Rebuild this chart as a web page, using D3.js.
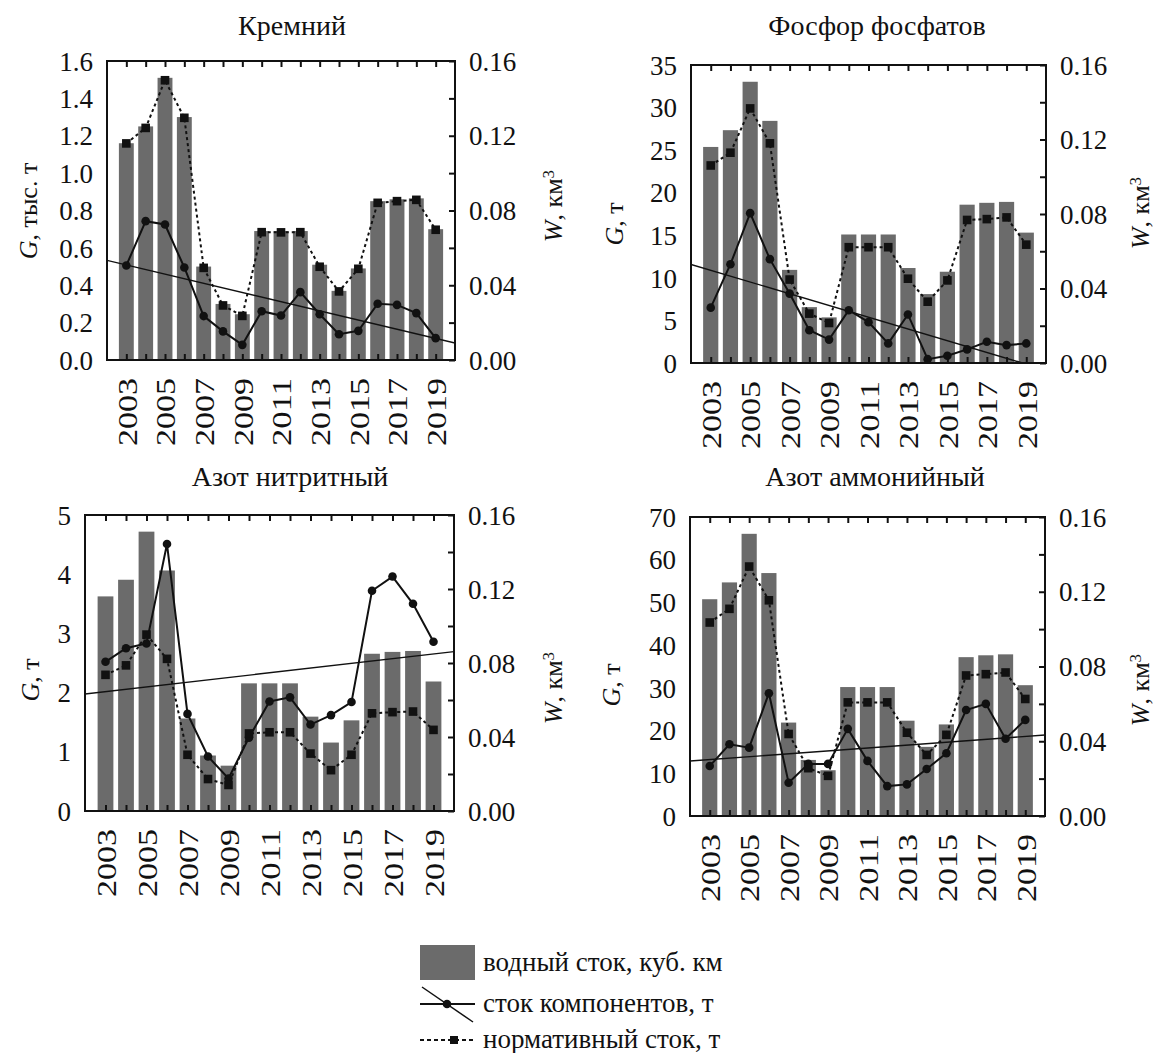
<!DOCTYPE html>
<html>
<head>
<meta charset="utf-8">
<script src="https://cdn.jsdelivr.net/npm/d3@7"></script>
<style>
  body { margin: 0; background: #fff; }
  svg text { font-family: "Liberation Serif", "Times New Roman", serif; fill: #111; }
</style>
</head>
<body>
<svg id="chart" width="1160" height="1053"></svg>
<script>
// Years of observation
const years = [2003, 2004, 2005, 2006, 2007, 2008, 2009, 2010, 2011, 2012, 2013, 2014, 2015, 2016, 2017, 2018, 2019];
const yearLabels = [2003, 2005, 2007, 2009, 2011, 2013, 2015, 2017, 2019];

// Water runoff W, km³ (bars, right axis)
const waterRunoff = [0.116, 0.125, 0.151, 0.130, 0.050, 0.030, 0.0245, 0.069, 0.069, 0.069, 0.051, 0.037, 0.049, 0.085, 0.086, 0.0865, 0.070];

// Component runoff G (solid line with circles) and normative runoff (dotted line with squares)
const siliconLoad = [0.506, 0.743, 0.725, 0.495, 0.235, 0.153, 0.081, 0.261, 0.238, 0.363, 0.245, 0.138, 0.156, 0.301, 0.295, 0.251, 0.117];
const siliconNorm = [1.159, 1.242, 1.497, 1.296, 0.493, 0.292, 0.236, 0.684, 0.683, 0.684, 0.499, 0.367, 0.488, 0.841, 0.850, 0.857, 0.697];
const phosphateLoad = [6.5, 11.6, 17.6, 12.2, 8.15, 3.85, 2.75, 6.2, 4.8, 2.3, 5.7, 0.45, 0.85, 1.6, 2.5, 2.1, 2.3];
const phosphateNorm = [23.2, 24.7, 29.9, 25.8, 9.8, 5.8, 4.7, 13.6, 13.6, 13.6, 9.9, 7.2, 9.7, 16.8, 16.9, 17.1, 13.9];
const nitriteLoad = [2.52, 2.75, 2.83, 4.51, 1.64, 0.92, 0.55, 1.24, 1.85, 1.92, 1.46, 1.62, 1.84, 3.72, 3.96, 3.50, 2.86];
const nitriteNorm = [2.30, 2.46, 2.98, 2.57, 0.95, 0.54, 0.44, 1.31, 1.33, 1.33, 0.97, 0.69, 0.95, 1.65, 1.67, 1.68, 1.37];
const ammoniumLoad = [11.7, 16.8, 16.0, 28.75, 7.8, 12.2, 12.2, 20.4, 12.9, 7.0, 7.4, 11.0, 14.7, 24.8, 26.25, 18.1, 22.5];
const ammoniumNorm = [45.3, 48.5, 58.4, 50.5, 19.2, 11.2, 9.4, 26.6, 26.6, 26.6, 19.5, 14.3, 19.0, 32.9, 33.2, 33.6, 27.4];

// Axis tick values
const siliconTicks = [0, 0.2, 0.4, 0.6, 0.8, 1.0, 1.2, 1.4, 1.6];
const phosphateTicks = [0, 5, 10, 15, 20, 25, 30, 35];
const nitriteTicks = [0, 1, 2, 3, 4, 5];
const ammoniumTicks = [0, 10, 20, 30, 40, 50, 60, 70];
const runoffTicks = [0, 0.04, 0.08, 0.12, 0.16];
const runoffTickMarks = [0, 0.02, 0.04, 0.06, 0.08, 0.10, 0.12, 0.14, 0.16];

const BAR = "#6b6b6b";
const FONT = "'Liberation Serif', 'Times New Roman', serif";
const svg = d3.select("#chart");

const panels = [
  { title: "Кремний", unit: ", тыс. т", load: siliconLoad, norm: siliconNorm, ticks: siliconTicks, fmt: d3.format(".1f"),
    box: { x0: 107, x1: 455, y0: 61, y1: 360 }, titleX: 292, titleY: 35, gX: 28, gY: 211, wX: 554, wY: 206 },
  { title: "Фосфор фосфатов", unit: ", т", load: phosphateLoad, norm: phosphateNorm, ticks: phosphateTicks, fmt: d3.format("d"),
    box: { x0: 691, x1: 1046, y0: 65, y1: 363 }, titleX: 877, titleY: 35, gX: 614, gY: 224, wX: 1141, wY: 213 },
  { title: "Азот нитритный", unit: ", т", load: nitriteLoad, norm: nitriteNorm, ticks: nitriteTicks, fmt: d3.format("d"),
    box: { x0: 85, x1: 454, y0: 515, y1: 811 }, titleX: 290, titleY: 486, gX: 30, gY: 680, wX: 554, wY: 688 },
  { title: "Азот аммонийный", unit: ", т", load: ammoniumLoad, norm: ammoniumNorm, ticks: ammoniumTicks, fmt: d3.format("d"),
    box: { x0: 690, x1: 1045, y0: 517, y1: 816 }, titleX: 875, titleY: 486, gX: 611, gY: 685, wX: 1141, wY: 690 }
];

// Least-squares trend of the component runoff
function linearFit(xs, ys) {
  const n = xs.length, mx = d3.mean(xs), my = d3.mean(ys);
  let sxy = 0, sxx = 0;
  for (let i = 0; i < n; i++) { sxy += (xs[i] - mx) * (ys[i] - my); sxx += (xs[i] - mx) ** 2; }
  const b = sxy / sxx;
  return x => my + b * (x - mx);
}

panels.forEach((p, idx) => {
  const { x0, x1, y0, y1 } = p.box;
  const x = d3.scaleLinear().domain([2002, 2020]).range([x0, x1]);
  const gMax = p.ticks[p.ticks.length - 1];
  const y = d3.scaleLinear().domain([0, gMax]).range([y1, y0]);
  const w = d3.scaleLinear().domain([0, 0.16]).range([y1, y0]);
  const step = x(2003) - x(2002);
  const bw = step * 0.77;

  const g = svg.append("g");
  const clipId = "clip" + idx;
  g.append("clipPath").attr("id", clipId)
    .append("rect").attr("x", x0).attr("y", y0).attr("width", x1 - x0).attr("height", y1 - y0);

  // bars: water runoff
  g.append("g").selectAll("rect").data(years).join("rect")
    .attr("x", (d) => x(d) - bw / 2)
    .attr("width", bw)
    .attr("y", (d, i) => w(waterRunoff[i]))
    .attr("height", (d, i) => y1 - w(waterRunoff[i]))
    .attr("fill", BAR);

  // trend line
  const fit = linearFit(years, p.load);
  g.append("line")
    .attr("clip-path", `url(#${clipId})`)
    .attr("x1", x(2002)).attr("y1", y(fit(2002)))
    .attr("x2", x(2020)).attr("y2", y(fit(2020)))
    .attr("stroke", "#111").attr("stroke-width", 1.4);

  // component runoff
  const line = d3.line().x((d) => x(d[0])).y((d) => y(d[1]));
  const loadPts = years.map((yr, i) => [yr, p.load[i]]);
  g.append("path").datum(loadPts).attr("d", line)
    .attr("fill", "none").attr("stroke", "#111").attr("stroke-width", 2);
  g.append("g").selectAll("circle").data(loadPts).join("circle")
    .attr("cx", (d) => x(d[0])).attr("cy", (d) => y(d[1])).attr("r", 4.3).attr("fill", "#111");

  // normative runoff
  const normPts = years.map((yr, i) => [yr, p.norm[i]]);
  g.append("path").datum(normPts).attr("d", line)
    .attr("fill", "none").attr("stroke", "#111").attr("stroke-width", 2).attr("stroke-dasharray", "3,3");
  g.append("g").selectAll("rect").data(normPts).join("rect")
    .attr("x", (d) => x(d[0]) - 4.3).attr("y", (d) => y(d[1]) - 4.3)
    .attr("width", 8.6).attr("height", 8.6).attr("fill", "#111");

  // frame
  g.append("rect").attr("x", x0).attr("y", y0).attr("width", x1 - x0).attr("height", y1 - y0)
    .attr("fill", "none").attr("stroke", "#111").attr("stroke-width", 2);

  // inward year ticks on top and bottom
  const topAxis = g.append("g").attr("transform", `translate(0,${y0})`)
    .call(d3.axisTop(x).tickValues(years).tickSize(-6).tickFormat(""));
  const botAxis = g.append("g").attr("transform", `translate(0,${y1})`)
    .call(d3.axisBottom(x).tickValues(years).tickSize(-6).tickFormat(""));
  [topAxis, botAxis].forEach(a => {
    a.select(".domain").remove();
    a.selectAll("line").attr("stroke", "#111").attr("stroke-width", 2);
  });

  // rotated year labels
  const yearAxis = g.append("g").attr("transform", `translate(0,${y1})`)
    .call(d3.axisBottom(x).tickValues(yearLabels).tickSize(0).tickFormat(d3.format("d")));
  yearAxis.select(".domain").remove();
  yearAxis.selectAll("text")
    .attr("transform", "rotate(-90)")
    .attr("x", -18).attr("y", 0).attr("dy", "0.36em")
    .attr("text-anchor", "end")
    .attr("textLength", 68).attr("lengthAdjust", "spacingAndGlyphs")
    .style("font-size", "27px").style("font-family", FONT).attr("fill", "#111");

  // left axis: G
  const leftAxis = g.append("g").attr("transform", `translate(${x0},0)`)
    .call(d3.axisLeft(y).tickValues(p.ticks).tickFormat(p.fmt).tickSize(0).tickPadding(14));
  leftAxis.select(".domain").remove();
  leftAxis.selectAll("text").style("font-size", "27px").style("font-family", FONT)
    .attr("fill", "#111").attr("dy", "0.34em");

  // right axis: W
  const rightTicks = g.append("g").attr("transform", `translate(${x1},0)`)
    .call(d3.axisLeft(w).tickValues(runoffTickMarks).tickSize(6).tickFormat(""));
  rightTicks.select(".domain").remove();
  rightTicks.selectAll("line").attr("stroke", "#111").attr("stroke-width", 2);
  const rightAxis = g.append("g").attr("transform", `translate(${x1},0)`)
    .call(d3.axisRight(w).tickValues(runoffTicks).tickFormat(d3.format(".2f")).tickSize(0).tickPadding(14));
  rightAxis.select(".domain").remove();
  rightAxis.selectAll("text").style("font-size", "27px").style("font-family", FONT)
    .attr("fill", "#111").attr("dy", "0.34em");

  // title
  g.append("text").attr("x", p.titleX).attr("y", p.titleY).attr("text-anchor", "middle")
    .style("font-size", "28px").text(p.title);

  // G axis label
  const gl = g.append("text").attr("transform", `translate(${p.gX},${p.gY}) rotate(-90)`)
    .attr("text-anchor", "middle").attr("dy", "0.35em").style("font-size", "26px");
  gl.append("tspan").style("font-style", "italic").text("G");
  gl.append("tspan").text(p.unit);

  // W axis label
  const wl = g.append("text").attr("transform", `translate(${p.wX},${p.wY}) rotate(-90)`)
    .attr("text-anchor", "middle").attr("dy", "0.3em").style("font-size", "26px");
  wl.append("tspan").style("font-style", "italic").text("W");
  wl.append("tspan").text(", км");
  wl.append("tspan").attr("dy", "-0.45em").style("font-size", "17px").text("3");
});

// legend
const lg = svg.append("g");
const lx0 = 420, lx1 = 475, tx = 483;
lg.append("rect").attr("x", lx0).attr("y", 945).attr("width", lx1 - lx0).attr("height", 35).attr("fill", BAR);
lg.append("text").attr("x", tx).attr("y", 971).style("font-size", "27px").text("водный сток, куб. км");

lg.append("line").attr("x1", lx0).attr("x2", lx1).attr("y1", 1004).attr("y2", 1004).attr("stroke", "#111").attr("stroke-width", 2);
lg.append("line").attr("x1", lx0 + 2).attr("y1", 987).attr("x2", lx1 - 2).attr("y2", 1022).attr("stroke", "#111").attr("stroke-width", 1.5);
lg.append("circle").attr("cx", 447).attr("cy", 1004).attr("r", 4.3).attr("fill", "#111");
lg.append("text").attr("x", tx).attr("y", 1012).style("font-size", "27px").text("сток компонентов, т");

lg.append("line").attr("x1", lx0).attr("x2", lx1).attr("y1", 1040).attr("y2", 1040).attr("stroke", "#111")
  .attr("stroke-width", 2).attr("stroke-dasharray", "4,3");
lg.append("rect").attr("x", 450).attr("y", 1036).attr("width", 8).attr("height", 8).attr("fill", "#111");
lg.append("text").attr("x", tx).attr("y", 1048).style("font-size", "27px").text("нормативный сток, т");
</script>
</body>
</html>
